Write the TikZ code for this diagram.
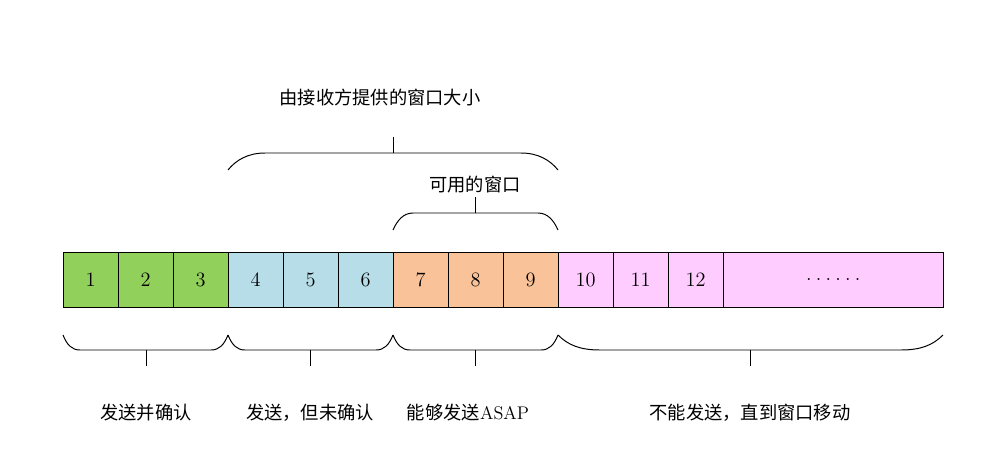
\documentclass[tikz,border=0pt]{standalone}
\usepackage{fontspec}
\newfontfamily\cjk{Noto Sans CJK SC}
\usetikzlibrary{positioning}

\begin{document}
\begin{tikzpicture}[x=0.025cm, y=-0.025cm,
    cell/.style={rectangle, draw, line width=0.7pt, outer sep=0pt, minimum width=1.375cm, minimum height=1.375cm, inner sep=0pt, font=\fontsize{14.5}{16}\selectfont},
    brace/.style={line width=0.7pt},
    lbl/.style={font=\fontsize{13}{15}\selectfont\cjk, inner sep=0pt}]

    % Define colors
    \definecolor{ackedcolor}{RGB}{146,208,92}
    \definecolor{sentcolor}{RGB}{183,222,232}
    \definecolor{usablecolor}{RGB}{250,194,152}
    \definecolor{waitcolor}{RGB}{255,204,255}

    \useasboundingbox (0,0) rectangle (1000,475);

    % Cells
    \node[cell, fill=ackedcolor, anchor=north west] (c1) at (63,252) {1};
    \node[cell, fill=ackedcolor, right=0pt of c1] (c2) {2};
    \node[cell, fill=ackedcolor, right=0pt of c2] (c3) {3};
    \node[cell, fill=sentcolor, right=0pt of c3] (c4) {4};
    \node[cell, fill=sentcolor, right=0pt of c4] (c5) {5};
    \node[cell, fill=sentcolor, right=0pt of c5] (c6) {6};
    \node[cell, fill=usablecolor, right=0pt of c6] (c7) {7};
    \node[cell, fill=usablecolor, right=0pt of c7] (c8) {8};
    \node[cell, fill=usablecolor, right=0pt of c8] (c9) {9};
    \node[cell, fill=waitcolor, right=0pt of c9] (c10) {10};
    \node[cell, fill=waitcolor, right=0pt of c10] (c11) {11};
    \node[cell, fill=waitcolor, right=0pt of c11] (c12) {12};
    \node[cell, fill=waitcolor, minimum width=5.5cm, right=0pt of c12] (rest) {.\kern3pt.\kern3pt.\kern3pt.\kern3pt.\kern3pt.};

    % Top braces
    \draw[brace] (228,170) .. controls (236,160) and (248,153) .. (265,153) -- (521,153) .. controls (538,153) and (550,160) .. (558,170);
    \draw[brace] (393,153) -- (393,137);
    \draw[brace] (393,230) .. controls (397,221) and (403,213) .. (413,213) -- (538,213) .. controls (548,213) and (554,221) .. (558,230);
    \draw[brace] (475,213) -- (475,197);

    % Bottom braces
    \draw[brace] (63,335) .. controls (67,345) and (72,350) .. (80,350) -- (211,350) .. controls (219,350) and (224,345) .. (228,335);
    \draw[brace] (228,335) .. controls (232,345) and (237,350) .. (245,350) -- (376,350) .. controls (384,350) and (389,345) .. (393,335);
    \draw[brace] (393,335) .. controls (397,345) and (402,350) .. (410,350) -- (541,350) .. controls (549,350) and (554,345) .. (558,335);
    \draw[brace] (558,335) .. controls (568,345) and (580,350) .. (600,350) -- (901,350) .. controls (921,350) and (933,345) .. (943,335);
    \draw[brace] (146,350) -- (146,366);
    \draw[brace] (310,350) -- (310,366);
    \draw[brace] (475,350) -- (475,366);
    \draw[brace] (750,350) -- (750,366);

    % Labels
    \node[lbl] (recvwin) at (380,98) {由接收方提供的窗口大小};
    \node[lbl] (usablewin) at (475,185) {可用的窗口};
    \node[lbl] (acked) at (146,413) {发送并确认};
    \node[lbl] (sent) at (310,413) {发送，但未确认};
    \node[lbl] (usable) at (468,413) {能够发送{\rmfamily ASAP}};
    \node[lbl] (wait) at (750,413) {不能发送，直到窗口移动};

\end{tikzpicture}
\end{document}
